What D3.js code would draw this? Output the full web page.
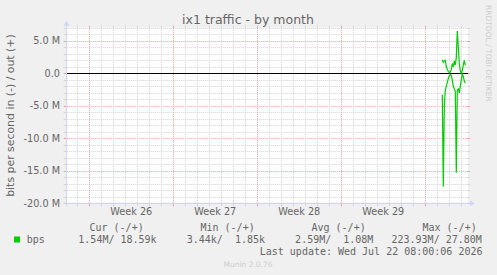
<!DOCTYPE html>
<html><head><meta charset="utf-8">
<script src="https://cdn.jsdelivr.net/npm/d3@7/dist/d3.min.js"></script>
<style>html,body{margin:0;padding:0;background:#F0F0F0;} svg{display:block}</style>
</head><body><svg id="c" width="497" height="275"></svg>
<script>
// ---- data ----
const title = "ix1 traffic - by month";
const yLabel = "bits per second in (-) / out (+)";
const watermark = "RRDTOOL / TOBI OETIKER";
const footer = "Munin 2.0.76";
const lastUpdate = "Last update: Wed Jul 22 08:00:06 2026";
const yTicks = [5e6, 0, -5e6, -10e6, -15e6, -20e6];
const yTickLabels = ["5.0 M", "0.0", "-5.0 M", "-10.0 M", "-15.0 M", "-20.0 M"];
const weekLabels = ["Week 26", "Week 27", "Week 28", "Week 29"];
const weekStarts = ["2026-06-22", "2026-06-29", "2026-07-06", "2026-07-13", "2026-07-20"];
const rangeStart = "2026-06-20T03:24:00Z";
const rangeEnd = "2026-07-23T13:24:00Z";
const dataStart = "2026-07-21T10:00:00Z";
const stepHours = 2;
// out (+), in Mbit/s
const outMbps = [2.1, 1.7, 1.9, 2.0, 1.0, 0.6, 0.3, 0.1, 0.2, 0.6, 1.5, 1.0, 1.9, 1.3, 2.4, 6.5, 4.0, 1.5, 0.4, 0.0, 0.4, 1.3, 2.0, 1.2];
// in (-), Mbit/s (drawn negated)
const inMbps = [3.3, 17.4, 5.0, 2.6, 2.0, 1.4, 0.8, 0.4, 0.2, 0.3, 1.0, 2.0, 2.4, 2.8, 15.3, 2.6, 2.4, 3.0, 2.0, 1.0, 0.1, 0.5, 1.2, 1.5];
const legendName = "bps";
const legendHeaders = ["Cur (-/+)", "Min (-/+)", "Avg (-/+)", "Max (-/+)"];
const legendIn = ["1.54M", "3.44k", "2.59M", "223.93M"];
const legendOut = ["18.59k", "1.85k", "1.08M", "27.80M"];

// ---- drawing ----
const svg = d3.select("#c");
const L = 66.7, R = 468, T = 27.8, B = 203.3;
const x = d3.scaleUtc().domain([new Date(rangeStart), new Date(rangeEnd)]).range([L + 0.3, R]);
const y = d3.scaleLinear().domain([-20e6, 7e6]).range([B, T]);

svg.append("rect").attr("width", 497).attr("height", 275).attr("fill", "#F0F0F0");
svg.append("rect").attr("x", L).attr("y", T).attr("width", R - L).attr("height", B - T).attr("fill", "#FFFFFF");

const g = svg.append("g");
const minorC = "#D4D4D4", majorC = "#E4A0A0";
// horizontal grid
d3.range(-20, 8).forEach(v => {
  const major = v % 5 === 0;
  const yy = Math.round(y(v * 1e6)) + 0.5;
  const c = major ? majorC : minorC;
  g.append("line").attr("x1", L).attr("x2", R).attr("y1", yy).attr("y2", yy)
    .attr("stroke", c).attr("stroke-dasharray", "1,1");
  g.append("line").attr("x1", L - 3).attr("x2", L).attr("y1", yy).attr("y2", yy).attr("stroke", c);
  g.append("line").attr("x1", R).attr("x2", R + 2).attr("y1", yy).attr("y2", yy).attr("stroke", c);
});
// vertical grid (daily / weekly)
const days = d3.utcDay.range(new Date(rangeStart), new Date(rangeEnd));
const weekSet = new Set(weekStarts.map(s => +new Date(s + "T00:00:00Z")));
days.forEach(d => {
  const major = weekSet.has(+d);
  const xx = Math.round(x(d)) + 0.5;
  const c = major ? majorC : minorC;
  g.append("line").attr("x1", xx).attr("x2", xx).attr("y1", T).attr("y2", B)
    .attr("stroke", c).attr("stroke-dasharray", "1,1");
  g.append("line").attr("x1", xx).attr("x2", xx).attr("y1", B).attr("y2", B + 3).attr("stroke", c);
  g.append("line").attr("x1", xx).attr("x2", xx).attr("y1", T - 2).attr("y2", T).attr("stroke", c);
});

// zero line
svg.append("line").attr("x1", L).attr("x2", R).attr("y1", Math.round(y(0)) + 0.5).attr("y2", Math.round(y(0)) + 0.5)
  .attr("stroke", "#000").attr("stroke-width", 1);

// data lines
const t0 = new Date(dataStart);
const tAt = i => new Date(+t0 + i * stepHours * 3600e3);
const line = d3.line().x(d => x(d.t)).y(d => y(d.v));
svg.append("path").datum(outMbps.map((v, i) => ({t: tAt(i), v: v * 1e6})))
  .attr("d", line).attr("fill", "none").attr("stroke", "#00CC00").attr("stroke-width", 1.2);
svg.append("path").datum(inMbps.map((v, i) => ({t: tAt(i), v: -v * 1e6})))
  .attr("d", line).attr("fill", "none").attr("stroke", "#00CC00").attr("stroke-width", 1.2);

// axes
const axC = "#CFD6F8";
svg.append("line").attr("x1", L - 0.2).attr("x2", L - 0.2).attr("y1", B + 3).attr("y2", T - 3).attr("stroke", axC);
svg.append("path").attr("d", `M${L - 3.2},${T - 2} L${L + 2.8},${T - 2} L${L - 0.2},${T - 7} Z`).attr("fill", axC);
svg.append("line").attr("x1", L - 3).attr("x2", R + 2).attr("y1", B).attr("y2", B).attr("stroke", axC);
svg.append("path").attr("d", `M${R + 2},${B - 3} L${R + 2},${B + 3} L${R + 7},${B} Z`).attr("fill", axC);

// y tick labels
const fontC = "#666666";
svg.append("g").selectAll("text").data(yTicks).join("text")
  .attr("x", 60).attr("y", d => y(d) + 3.5).attr("text-anchor", "end")
  .attr("font-family", "DejaVu Sans").attr("font-size", 9.7).attr("fill", fontC)
  .text((d, i) => yTickLabels[i]);

// week labels
svg.append("g").selectAll("text").data(weekLabels).join("text")
  .attr("x", (d, i) => (x(new Date(weekStarts[i] + "T00:00:00Z")) + x(new Date(weekStarts[i + 1] + "T00:00:00Z"))) / 2)
  .attr("y", 215).attr("text-anchor", "middle")
  .attr("font-family", "DejaVu Sans").attr("font-size", 9.7).attr("fill", fontC)
  .text(d => d);

// title
svg.append("text").attr("x", 248).attr("y", 23.5).attr("text-anchor", "middle")
  .attr("font-family", "DejaVu Sans").attr("font-size", 12.5).attr("fill", fontC).text(title);

// y label
svg.append("text").attr("transform", `translate(13.5,${(T + B) / 2}) rotate(-90)`).attr("text-anchor", "middle")
  .attr("font-family", "DejaVu Sans").attr("font-size", 10.9).attr("fill", fontC).text(yLabel);

// watermark
svg.append("text").attr("transform", `translate(485.5,5) rotate(90)`).attr("text-anchor", "start")
  .attr("font-family", "DejaVu Sans").attr("font-size", 7.5).attr("fill", "#CCCCCC").text(watermark);

// legend
const mono = "DejaVu Sans Mono";
const headerX = [89.5, 200.5, 311.5, 422.5];
svg.append("g").selectAll("text").data(legendHeaders).join("text")
  .attr("x", (d, i) => headerX[i]).attr("y", 231)
  .attr("font-family", mono).attr("font-size", 10).attr("fill", fontC)
  .style("white-space", "pre").text(d => d);
svg.append("rect").attr("x", 14).attr("y", 236.5).attr("width", 6).attr("height", 6).attr("fill", "#00CC00");
svg.append("text").attr("x", 26.7).attr("y", 243).attr("font-family", mono).attr("font-size", 10).attr("fill", fontC).text(legendName);
const fmt = s => s.slice(0, -1).padStart(6, " ") + s.slice(-1);
svg.append("g").selectAll("text").data(legendIn).join("text")
  .attr("x", (d, i) => 156.6 + i * 108.4).attr("y", 243).attr("text-anchor", "end")
  .attr("font-family", mono).attr("font-size", 10).attr("fill", fontC)
  .attr("xml:space", "preserve").style("white-space", "pre")
  .text((d, i) => fmt(d) + "/" + fmt(legendOut[i]));
svg.append("text").attr("x", 482.5).attr("y", 254.5).attr("text-anchor", "end")
  .attr("font-family", mono).attr("font-size", 10).attr("fill", fontC)
  .style("white-space", "pre").text(lastUpdate);
svg.append("text").attr("x", 248).attr("y", 267).attr("text-anchor", "middle")
  .attr("font-family", "DejaVu Sans").attr("font-size", 7.5).attr("fill", "#CCCCCC").text(footer);
</script></body></html>
